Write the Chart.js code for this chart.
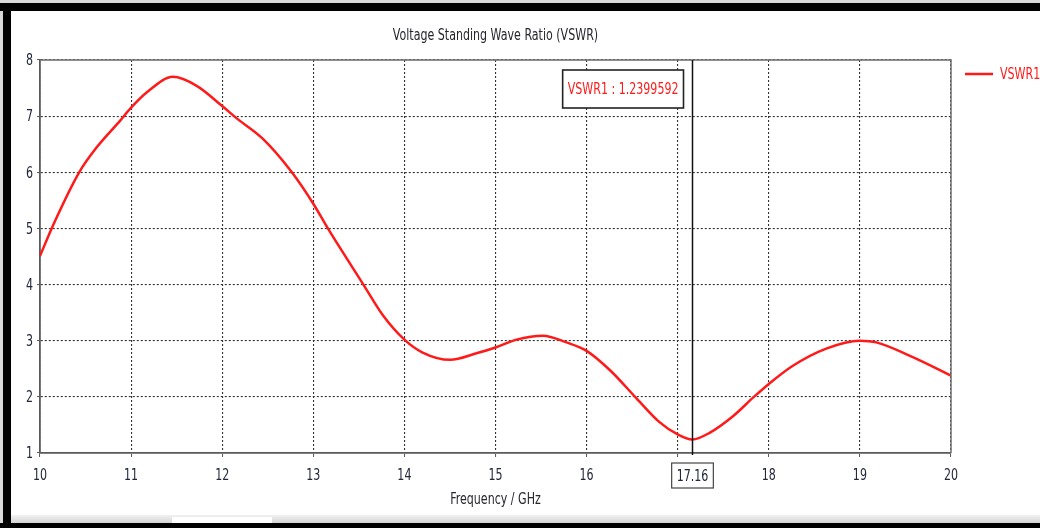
<!DOCTYPE html>
<html>
<head>
<meta charset="utf-8">
<script src="https://cdn.jsdelivr.net/npm/chart.js@4.4.1/dist/chart.umd.min.js"></script>
<style>
  html, body { margin: 0; padding: 0; background: #ffffff; }
  #wrap { width: 1040px; height: 528px; position: relative; }
  canvas { display: block; }
</style>
</head>
<body>
<div id="wrap"><canvas id="c" width="1040" height="528"></canvas></div>
<script>
// ---- data ----
const seriesName = 'VSWR1';
const chartTitle = 'Voltage Standing Wave Ratio (VSWR)';
const xAxisTitle = 'Frequency / GHz';
const freqGHz = [10, 10.15, 10.43, 10.62, 10.88, 11.0, 11.17, 11.46, 11.72, 12.0, 12.16, 12.45, 12.75, 13.0, 13.16,
                 13.55, 13.77, 14.0, 14.2, 14.5, 14.8, 15.0, 15.23, 15.52, 15.78, 16.0, 16.26, 16.55, 16.8, 17.0,
                 17.16, 17.35, 17.61, 17.83, 18.0, 18.26, 18.63, 19.0, 19.18, 19.55, 20.0];
const vswr    = [4.51, 5.08, 6.0, 6.44, 6.92, 7.15, 7.42, 7.70, 7.54, 7.18, 6.96, 6.59, 6.03, 5.44, 5.0,
                 4.0, 3.44, 3.02, 2.79, 2.66, 2.78, 2.88, 3.02, 3.09, 2.97, 2.82, 2.47, 1.97, 1.55, 1.33,
                 1.24, 1.36, 1.66, 1.99, 2.23, 2.55, 2.86, 3.0, 2.97, 2.73, 2.38];
const xRange = [10, 20];
const yRange = [1, 8];
const markerFreq = 17.16;
const markerValue = 1.2399592;

const FONT = "'DejaVu Sans Condensed', 'Liberation Sans', sans-serif";
const RED = '#ff1a1a';
const TEXT = '#22283a';
const SQX = 0.82; // horizontal squeeze of the narrow UI font
const SQY = 1.1;  // slight vertical stretch, as in the screenshot

function txt(ctx, s, x, y, align, size, color) {
  ctx.save();
  ctx.font = size + 'px ' + FONT;
  ctx.fillStyle = color;
  ctx.textAlign = align;
  ctx.textBaseline = 'middle';
  ctx.translate(x, y);
  ctx.scale(SQX, SQY);
  ctx.fillText(s, 0, 0);
  ctx.restore();
}
function txtWidth(ctx, s, size) {
  ctx.save();
  ctx.font = size + 'px ' + FONT;
  const w = ctx.measureText(s).width * SQX;
  ctx.restore();
  return w;
}

const decor = {
  id: 'decor',
  beforeDraw(chart) {
    const ctx = chart.ctx;
    ctx.save();
    ctx.fillStyle = '#ffffff';
    ctx.fillRect(0, 0, chart.width, chart.height);
    ctx.restore();
  },
  afterDraw(chart) {
    const ctx = chart.ctx;
    const a = chart.chartArea;
    const xs = chart.scales.x, ys = chart.scales.y;
    const midX = (a.left + a.right) / 2;
    ctx.save();
    // plot frame top/right
    ctx.strokeStyle = '#707070';
    ctx.lineWidth = 1.5;
    ctx.setLineDash([]);
    ctx.beginPath();
    ctx.moveTo(a.left, a.top);
    ctx.lineTo(a.right, a.top);
    ctx.lineTo(a.right, a.bottom);
    ctx.stroke();

    // title and axis title
    txt(ctx, chartTitle, midX, a.top - 24, 'center', 15, '#26262e');
    txt(ctx, xAxisTitle, midX, a.bottom + 47, 'center', 15, '#26262e');

    // tick labels from the scales
    xs.ticks.forEach(t => {
      txt(ctx, String(t.value), xs.getPixelForValue(t.value), a.bottom + 23, 'center', 15, TEXT);
    });
    ys.ticks.forEach(t => {
      txt(ctx, String(t.value), a.left - 7, ys.getPixelForValue(t.value) + 1, 'right', 15, TEXT);
    });

    // cursor line
    const cx = Math.round(xs.getPixelForValue(markerFreq)) + 0.5;
    ctx.strokeStyle = '#111111';
    ctx.lineWidth = 1.5;
    ctx.beginPath();
    ctx.moveTo(cx, a.top);
    ctx.lineTo(cx, a.bottom + 2);
    ctx.stroke();

    // marker value box
    const label = seriesName + ' : ' + markerValue;
    const tw = txtWidth(ctx, label, 15);
    const bw = tw + 10, bh = 38;
    const bx = cx - 9 - bw, by = a.top + 10;
    ctx.fillStyle = '#ffffff';
    ctx.fillRect(bx, by, bw, bh);
    ctx.strokeStyle = '#222222';
    ctx.lineWidth = 1.6;
    ctx.strokeRect(bx, by, bw, bh);
    txt(ctx, label, bx + bw / 2, by + bh / 2 + 1, 'center', 15, RED);

    // x cursor value box
    const xl = String(markerFreq);
    const xw = txtWidth(ctx, xl, 15) + 10;
    const xbx = cx - xw / 2, xby = a.bottom + 10, xbh = 25;
    ctx.fillStyle = '#ffffff';
    ctx.fillRect(xbx, xby, xw, xbh);
    ctx.strokeStyle = '#444444';
    ctx.lineWidth = 1.2;
    ctx.strokeRect(xbx, xby, xw, xbh);
    txt(ctx, xl, cx, xby + xbh / 2 + 1, 'center', 15, TEXT);

    // legend
    const ds = chart.data.datasets[0];
    const ly = a.top + 14;
    ctx.strokeStyle = ds.borderColor;
    ctx.lineWidth = 2.5;
    ctx.beginPath();
    ctx.moveTo(a.right + 14, ly);
    ctx.lineTo(a.right + 42, ly);
    ctx.stroke();
    txt(ctx, ds.label, a.right + 49, ly + 1, 'left', 15, ds.borderColor);

    // screenshot frame (black border, grey bar)
    ctx.fillStyle = '#d9d9d9';
    ctx.fillRect(0, 0, chart.width, 3);
    ctx.fillRect(0, 0, 3, chart.height);
    ctx.fillStyle = '#000000';
    ctx.fillRect(0, 3, chart.width, 8);
    ctx.fillRect(3, 3, 8, chart.height);
    const g = ctx.createLinearGradient(0, 515, 0, 523);
    g.addColorStop(0, '#f2f2f2');
    g.addColorStop(1, '#d4d4d4');
    ctx.fillStyle = g;
    ctx.fillRect(11, 515, chart.width - 11, 8);
    ctx.fillStyle = '#ffffff';
    ctx.fillRect(172, 517, 100, 6);
    ctx.fillStyle = '#000000';
    ctx.fillRect(0, 523, chart.width, 5);
    ctx.restore();
  }
};

new Chart(document.getElementById('c'), {
  type: 'line',
  data: {
    datasets: [{
      label: seriesName,
      data: freqGHz.map((f, i) => ({ x: f, y: vswr[i] })),
      borderColor: RED,
      borderWidth: 2.5,
      pointRadius: 0,
      fill: false,
      cubicInterpolationMode: 'monotone'
    }]
  },
  options: {
    responsive: false,
    animation: false,
    events: [],
    layout: { padding: { top: 60, left: 0, right: 89, bottom: 0 } },
    plugins: {
      legend: { display: false },
      tooltip: { enabled: false },
      title: { display: false }
    },
    scales: {
      x: {
        type: 'linear',
        min: xRange[0], max: xRange[1],
        afterFit(s) { s.height = 75; },
        ticks: { stepSize: 1, display: false },
        grid: { color: '#333333', lineWidth: 1.1, tickLength: 4, tickColor: '#555555', tickWidth: 1, tickBorderDash: [] },
        border: { display: true, color: '#5a5a5a', width: 1.8, dash: [2, 2] }
      },
      y: {
        type: 'linear',
        min: yRange[0], max: yRange[1],
        afterFit(s) { s.width = 40; },
        ticks: { stepSize: 1, display: false },
        grid: { color: '#333333', lineWidth: 1.1, tickLength: 3, tickColor: '#555555', tickWidth: 1, tickBorderDash: [] },
        border: { display: true, color: '#5a5a5a', width: 1.8, dash: [2, 2] }
      }
    }
  },
  plugins: [decor]
});
</script>
</body>
</html>
